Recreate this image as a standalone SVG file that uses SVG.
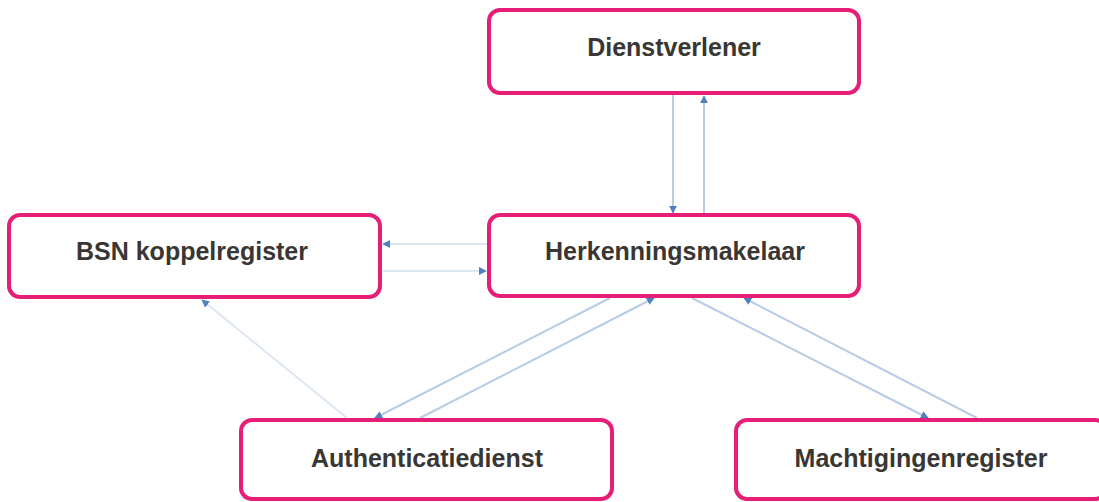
<svg xmlns="http://www.w3.org/2000/svg" width="1099" height="502" viewBox="0 0 1099 502">
<defs>
<style>
.box{fill:#ffffff;stroke:#e61e78;stroke-width:4}
.lbl{font-family:"Liberation Sans",Arial,sans-serif;font-weight:bold;font-size:25px;fill:#3a3633;text-anchor:middle}
.ln{fill:none;stroke:#b8cce4;stroke-width:2}
.lt{fill:none;stroke:#dce6f2;stroke-width:2}
</style>
<marker id="ah" viewBox="0 0 10 10" refX="9" refY="5" markerWidth="4" markerHeight="4" orient="auto" markerUnits="strokeWidth">
<path d="M0,0 L10,5 L0,10 z" fill="#4f81bd"/>
</marker>
</defs>
<rect width="1099" height="502" fill="#ffffff"/>
<g id="connectors">
<line class="ln" x1="673" y1="95" x2="673" y2="213" marker-end="url(#ah)"/>
<line class="ln" x1="704" y1="213" x2="704" y2="96" marker-end="url(#ah)"/>
<line class="lt" x1="487" y1="244" x2="383" y2="244" marker-end="url(#ah)"/>
<line class="lt" x1="383" y1="271" x2="486" y2="271" marker-end="url(#ah)"/>
<line class="lt" x1="347" y1="418" x2="202" y2="300" marker-end="url(#ah)"/>
<line class="ln" x1="610" y1="298" x2="375" y2="418" marker-end="url(#ah)"/>
<line class="ln" x1="420" y1="418" x2="654" y2="298" marker-end="url(#ah)"/>
<line class="ln" x1="692" y1="298" x2="928" y2="418" marker-end="url(#ah)"/>
<line class="ln" x1="977" y1="418" x2="744" y2="298" marker-end="url(#ah)"/>
</g>
<g id="dienstverlener">
<rect class="box" x="489" y="10" width="370" height="83" rx="11"/>
<text class="lbl" x="674" y="56">Dienstverlener</text>
</g>
<g id="herkenningsmakelaar">
<rect class="box" x="489" y="215" width="370" height="81" rx="11"/>
<text class="lbl" x="675" y="260">Herkenningsmakelaar</text>
</g>
<g id="bsn-koppelregister">
<rect class="box" x="9" y="215" width="371" height="82" rx="11"/>
<text class="lbl" x="192" y="260">BSN koppelregister</text>
</g>
<g id="authenticatiedienst">
<rect class="box" x="241" y="420" width="371" height="79" rx="11"/>
<text class="lbl" x="427" y="467">Authenticatiedienst</text>
</g>
<g id="machtigingenregister">
<rect class="box" x="736" y="420" width="370" height="79" rx="11"/>
<text class="lbl" x="921" y="467">Machtigingenregister</text>
</g>
</svg>
